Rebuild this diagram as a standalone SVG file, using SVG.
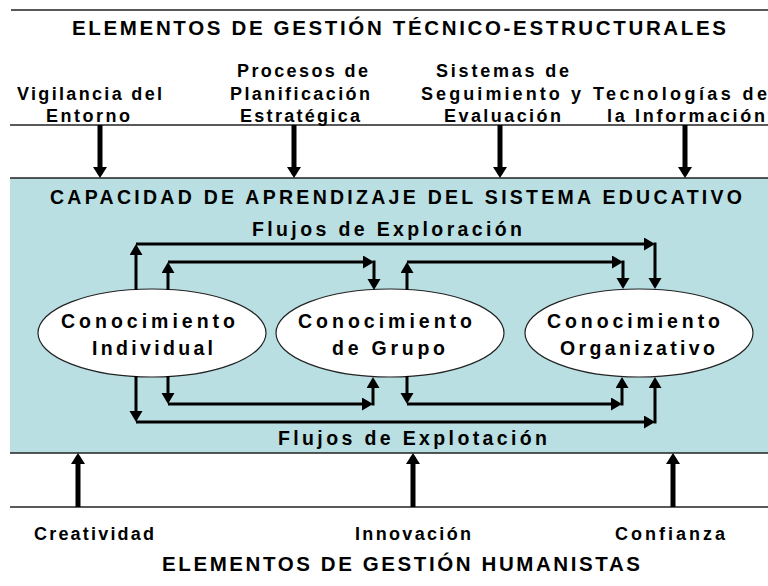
<svg xmlns="http://www.w3.org/2000/svg" width="768" height="586" viewBox="0 0 768 586">
<style>
text{font-family:"Liberation Sans",Arial,sans-serif;font-weight:bold;fill:#000}
.t19{font-size:20.5px}
.t18{font-size:19.5px}
.t17{font-size:18px}
.rule{stroke:#222;stroke-width:1.6;fill:none}
.fl{stroke:#000;stroke-width:3;fill:none;marker-end:url(#ah)}
.big{stroke:#000;stroke-width:5;fill:none;marker-end:url(#bh)}
.node{fill:#fff;stroke:#222;stroke-width:1.2}
</style>
<defs>
<marker id="ah" markerUnits="userSpaceOnUse" markerWidth="12" markerHeight="14" refX="8" refY="6.5" orient="auto">
<path d="M0,0 L11,6.5 L0,13 Z" fill="#000"/>
</marker>
<marker id="bh" markerUnits="userSpaceOnUse" markerWidth="12" markerHeight="15" refX="7" refY="7" orient="auto">
<path d="M0,0 L11,7 L0,14 Z" fill="#000"/>
</marker>
</defs>
<rect width="768" height="586" fill="#fff"/>
<rect x="10" y="178" width="760" height="275" fill="#b9dfe2"/>
<g id="frame">
<line class="rule" x1="11" y1="10" x2="768" y2="10"/>
<line class="rule" x1="10" y1="125" x2="768" y2="125"/>
<line class="rule" x1="10" y1="178" x2="768" y2="178"/>
<line class="rule" x1="10" y1="453" x2="768" y2="453"/>
<line class="rule" x1="10" y1="507" x2="768" y2="507"/>
</g>
<g id="titles">
<text class="t19" x="72" y="35" textLength="654" lengthAdjust="spacing">ELEMENTOS DE GESTIÓN TÉCNICO-ESTRUCTURALES</text>
<text class="t18" x="50" y="204" textLength="692" lengthAdjust="spacing">CAPACIDAD DE APRENDIZAJE DEL SISTEMA EDUCATIVO</text>
<text class="t18" x="252" y="236" textLength="270" lengthAdjust="spacing">Flujos de Exploración</text>
<text class="t18" x="278" y="445" textLength="269" lengthAdjust="spacing">Flujos de Explotación</text>
<text class="t19" x="162" y="571" textLength="478" lengthAdjust="spacing">ELEMENTOS DE GESTIÓN HUMANISTAS</text>
</g>
<g id="vigilancia">
<text class="t17" x="17" y="100" textLength="145" lengthAdjust="spacing">Vigilancia del</text>
<text class="t17" x="46" y="122" textLength="84" lengthAdjust="spacing">Entorno</text>
</g>
<g id="procesos">
<text class="t17" x="237" y="77" textLength="131" lengthAdjust="spacing">Procesos de</text>
<text class="t17" x="230" y="100" textLength="140" lengthAdjust="spacing">Planificación</text>
<text class="t17" x="240" y="122" textLength="120" lengthAdjust="spacing">Estratégica</text>
</g>
<g id="sistemas">
<text class="t17" x="436" y="77" textLength="133" lengthAdjust="spacing">Sistemas de</text>
<text class="t17" x="421" y="100" textLength="160" lengthAdjust="spacing">Seguimiento y</text>
<text class="t17" x="444" y="122" textLength="117" lengthAdjust="spacing">Evaluación</text>
</g>
<g id="tecnologias">
<text class="t17" x="593" y="100" textLength="174" lengthAdjust="spacing">Tecnologías de</text>
<text class="t17" x="607" y="122" textLength="158" lengthAdjust="spacing">la Información</text>
</g>
<g id="creatividad">
<text class="t17" x="34" y="540" textLength="120" lengthAdjust="spacing">Creatividad</text>
</g>
<g id="innovacion">
<text class="t17" x="355" y="540" textLength="116" lengthAdjust="spacing">Innovación</text>
</g>
<g id="confianza">
<text class="t17" x="615" y="540" textLength="110" lengthAdjust="spacing">Confianza</text>
</g>
<g id="individual">
<ellipse class="node" cx="152" cy="333" rx="114" ry="44"/>
<text class="t18" x="61" y="328" textLength="174" lengthAdjust="spacing">Conocimiento</text>
<text class="t18" x="92" y="355" textLength="121" lengthAdjust="spacing">Individual</text>
</g>
<g id="grupo">
<ellipse class="node" cx="390" cy="333" rx="114" ry="44"/>
<text class="t18" x="298" y="328" textLength="174" lengthAdjust="spacing">Conocimiento</text>
<text class="t18" x="332" y="355" textLength="113" lengthAdjust="spacing">de Grupo</text>
</g>
<g id="organizativo">
<ellipse class="node" cx="639" cy="333" rx="114" ry="44"/>
<text class="t18" x="547" y="328" textLength="173" lengthAdjust="spacing">Conocimiento</text>
<text class="t18" x="560" y="355" textLength="155" lengthAdjust="spacing">Organizativo</text>
</g>
<g id="connectors">
<line class="big" x1="100" y1="125" x2="100" y2="174"/>
<line class="big" x1="294" y1="125" x2="294" y2="174"/>
<line class="big" x1="500" y1="125" x2="500" y2="174"/>
<line class="big" x1="685" y1="125" x2="685" y2="174"/>
<line class="big" x1="78" y1="507" x2="78" y2="457"/>
<line class="big" x1="413" y1="507" x2="413" y2="457"/>
<line class="big" x1="673" y1="507" x2="673" y2="457"/>
<line class="fl" x1="136" y1="290" x2="136" y2="247"/>
<line class="fl" x1="136" y1="244" x2="652" y2="244"/>
<line class="fl" x1="655" y1="242.5" x2="655" y2="286"/>
<line class="fl" x1="168" y1="290" x2="168" y2="265"/>
<line class="fl" x1="168" y1="262" x2="371" y2="262"/>
<line class="fl" x1="374" y1="260.5" x2="374" y2="287"/>
<line class="fl" x1="407" y1="290" x2="407" y2="265"/>
<line class="fl" x1="407" y1="262" x2="620" y2="262"/>
<line class="fl" x1="623" y1="260.5" x2="623" y2="286"/>
<line class="fl" x1="136" y1="376" x2="136" y2="419"/>
<line class="fl" x1="136" y1="422" x2="652" y2="422"/>
<line class="fl" x1="655" y1="423.5" x2="655" y2="380"/>
<line class="fl" x1="168" y1="376" x2="168" y2="401"/>
<line class="fl" x1="168" y1="404" x2="370" y2="404"/>
<line class="fl" x1="373" y1="405.5" x2="373" y2="380"/>
<line class="fl" x1="407" y1="376" x2="407" y2="401"/>
<line class="fl" x1="407" y1="404" x2="619" y2="404"/>
<line class="fl" x1="622" y1="405.5" x2="622" y2="380"/>
</g>
</svg>
